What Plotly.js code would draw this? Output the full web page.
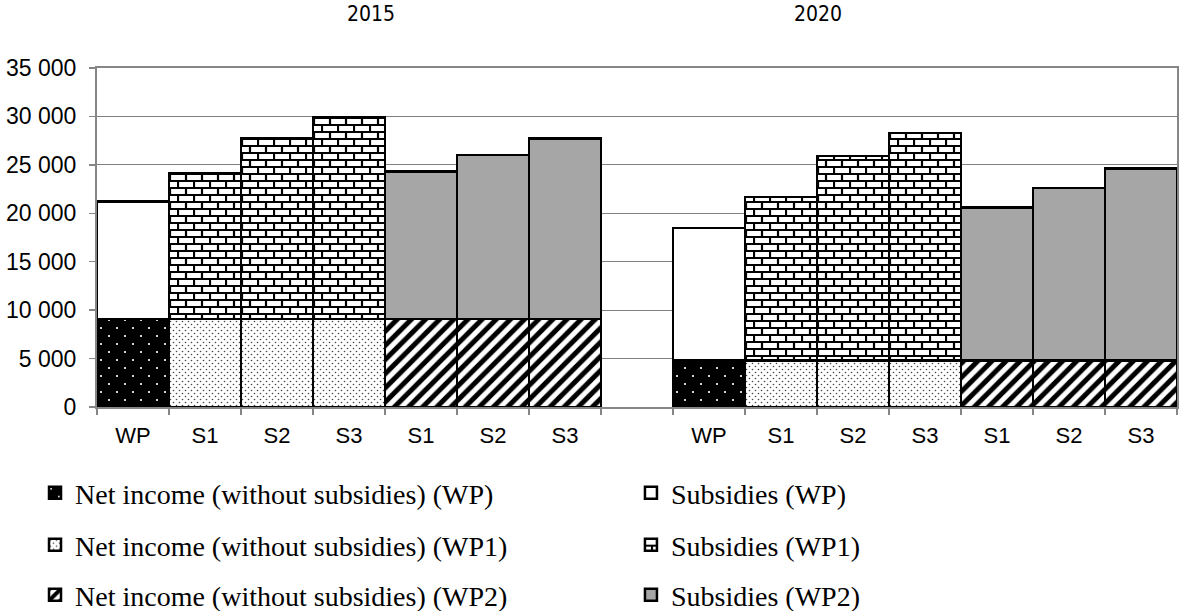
<!DOCTYPE html>
<html><head><meta charset="utf-8">
<script src="https://cdn.plot.ly/plotly-3.0.1.min.js"></script>
<style>html,body{margin:0;padding:0;background:#fff}#chart{width:1180px;height:611px}</style>
</head><body>
<svg width="0" height="0" style="position:absolute">
<defs>
<pattern id="brickPat" patternUnits="userSpaceOnUse" width="16" height="14">
<rect width="16" height="14" fill="#ffffff"/>
<path d="M0 1H16M0 8H16M1 0V8M9 7V14" stroke="#000" stroke-width="2.2" fill="none"/>
</pattern>
<pattern id="dotsBlack" patternUnits="userSpaceOnUse" width="16" height="16">
<rect width="16" height="16" fill="#000"/>
<circle cx="4" cy="4" r="1.1" fill="#fff"/>
<circle cx="12" cy="12" r="1.1" fill="#fff"/>
</pattern>
<pattern id="dotsFine" patternUnits="userSpaceOnUse" width="6" height="6">
<rect width="6" height="6" fill="#fff"/>
<circle cx="1.5" cy="1.5" r="0.8" fill="#444"/>
<circle cx="4.5" cy="4.5" r="0.8" fill="#444"/>
</pattern>
</defs></svg>
<div id="chart"></div>
<script>
// ---- data ----
const years = ["2015", "2020"];
const scenarioLabels = ["WP", "S1", "S2", "S3", "S1", "S2", "S3"];
const scenarioGroup = ["WP", "WP1", "WP1", "WP1", "WP2", "WP2", "WP2"];
const groups = ["WP", "WP1", "WP2"];
const netIncome2015 = [9100, 9100, 9100, 9100, 9100, 9100, 9100];
const subsidies2015 = [12100, 15000, 18600, 20800, 15200, 16900, 18600];
const netIncome2020 = [4800, 4800, 4800, 4800, 4800, 4800, 4800];
const subsidies2020 = [13700, 16900, 21100, 23500, 15800, 17800, 19800];

const netByYear = {"2015": netIncome2015, "2020": netIncome2020};
const subByYear = {"2015": subsidies2015, "2020": subsidies2020};

// category ids (unique) + a gap category between the years
const catIds = [], catText = [];
years.forEach((yr, k) => {
  if (k > 0) { catIds.push("gap" + k); catText.push(""); }
  scenarioLabels.forEach((lab, i) => { catIds.push(yr + "_" + i); catText.push(lab); });
});

const styles = {
  net: {
    WP:  {color: "#000", pattern: {shape: ".", bgcolor: "#000", fgcolor: "#fff", size: 8, solidity: 0.05, fillmode: "replace"}},
    WP1: {color: "#fff", pattern: {shape: ".", bgcolor: "#fff", fgcolor: "#555", size: 4, solidity: 0.15, fillmode: "replace"}},
    WP2: {color: "#fff", pattern: {shape: "/", bgcolor: "#fff", fgcolor: "#000", size: 10, solidity: 0.5, fillmode: "replace"}}
  },
  sub: {
    WP:  {color: "#fff"},
    WP1: {color: "#fff", pattern: {shape: "+", bgcolor: "#fff", fgcolor: "#000", size: 8, solidity: 0.3, fillmode: "replace"}},
    WP2: {color: "#a6a6a6"}
  }
};

// one small legend per entry: 3 rows x 2 columns
const legendFont = {family: "Liberation Serif, 'Times New Roman', serif", size: 28, color: "#000"};
const legendRowsY = [-0.2537, -0.407, -0.5546];
const legendColsX = [-0.0574, 0.4944];
const layoutLegends = {};
const legendIdOf = {};
let li = 0;
groups.forEach((g, r) => {
  ["net", "sub"].forEach((kind, c) => {
    const id = li === 0 ? "legend" : "legend" + (li + 1);
    legendIdOf[kind + g] = id;
    layoutLegends[id] = {orientation: "h", x: legendColsX[c], xanchor: "left", y: legendRowsY[r], yanchor: "middle",
                         font: legendFont, itemwidth: 30, bgcolor: "rgba(0,0,0,0)"};
    li++;
  });
});

const traces = [];
groups.forEach(g => {
  ["net", "sub"].forEach(kind => {
    const x = [], y = [];
    years.forEach(yr => {
      scenarioGroup.forEach((sg, i) => {
        if (sg === g) {
          x.push(yr + "_" + i);
          y.push(kind === "net" ? netByYear[yr][i] : subByYear[yr][i]);
        }
      });
    });
    const st = styles[kind][g];
    const marker = {color: st.color, line: {color: "#000", width: 2.5}};
    if (st.pattern) marker.pattern = st.pattern;
    traces.push({
      type: "bar", x: x, y: y,
      name: (kind === "net" ? "Net income (without subsidies) (" : "Subsidies (") + g + ")",
      marker: marker, legend: legendIdOf[kind + g],
      customdata: [kind + g], hoverinfo: "skip"
    });
  });
});

const axisGray = "#868686";
const titleFont = {family: "'Liberation Sans Narrow', 'Arial Narrow', 'DejaVu Sans Condensed', sans-serif", size: 21, color: "#000"};

const layout = Object.assign({
  width: 1180, height: 611,
  margin: {l: 97, r: 3, t: 68, b: 204, autoexpand: false},
  barmode: "stack", bargap: 0,
  separators: ". ",
  paper_bgcolor: "#fff", plot_bgcolor: "#fff",
  font: {family: "Liberation Sans, Arial, sans-serif", color: "#000"},
  xaxis: {type: "category", categoryorder: "array", categoryarray: catIds,
          tickmode: "array", tickvals: catIds, ticktext: catText,
          tickson: "boundaries", ticks: "outside", ticklen: 6, tickwidth: 1.5, tickcolor: axisGray,
          showline: true, linecolor: axisGray, linewidth: 2, mirror: true, showgrid: false,
          range: [-0.5, catIds.length - 0.5], tickfont: {size: 22}, ticklabelstandoff: 8, fixedrange: true},
  yaxis: {range: [0, 35000], tick0: 0, dtick: 5000, tickformat: ",d",
          ticks: "outside", ticklen: 6, tickwidth: 1.5, tickcolor: axisGray,
          showline: true, linecolor: axisGray, linewidth: 2, mirror: true,
          showgrid: true, gridcolor: "#808080", gridwidth: 1, zeroline: false,
          tickfont: {size: 23}, ticklabelstandoff: 8, fixedrange: true},
  annotations: [
    {text: years[0], xref: "paper", yref: "paper", x: 0.254, y: 1.158, showarrow: false, font: titleFont, xanchor: "center", yanchor: "middle"},
    {text: years[1], xref: "paper", yref: "paper", x: 0.668, y: 1.158, showarrow: false, font: titleFont, xanchor: "center", yanchor: "middle"}
  ],
  showlegend: true
}, layoutLegends);

const custom = {"netWP": "url(#dotsBlack)", "subWP1": "url(#brickPat)", "netWP1": "url(#dotsFine)"};
function traceOf(el) {
  const d = el.__data__;
  if (!d) return null;
  const a = Array.isArray(d) ? d[0] : d;
  if (!a) return null;
  if (a.trace) return a.trace;
  if (Array.isArray(a) && a[0] && a[0].trace) return a[0].trace;
  return null;
}
function restyleSvg(gd) {
  gd.querySelectorAll(".barlayer .trace").forEach(tr => {
    const t = traceOf(tr);
    if (t && t.customdata && custom[t.customdata[0]]) {
      tr.querySelectorAll("path").forEach(p => p.style.setProperty("fill", custom[t.customdata[0]]));
    }
  });
  gd.querySelectorAll(".traces").forEach(tr => {
    const t = traceOf(tr);
    if (t && t.customdata && custom[t.customdata[0]]) {
      tr.querySelectorAll(".legendpoints path").forEach(p => p.style.setProperty("fill", custom[t.customdata[0]]));
    }
  });
}

const gdEl = document.getElementById("chart");
Plotly.newPlot(gdEl, traces, layout, {displayModeBar: false, staticPlot: true}).then(gd => {
  restyleSvg(gd);
  gd.on("plotly_afterplot", () => restyleSvg(gd));
});
</script>
</body></html>
